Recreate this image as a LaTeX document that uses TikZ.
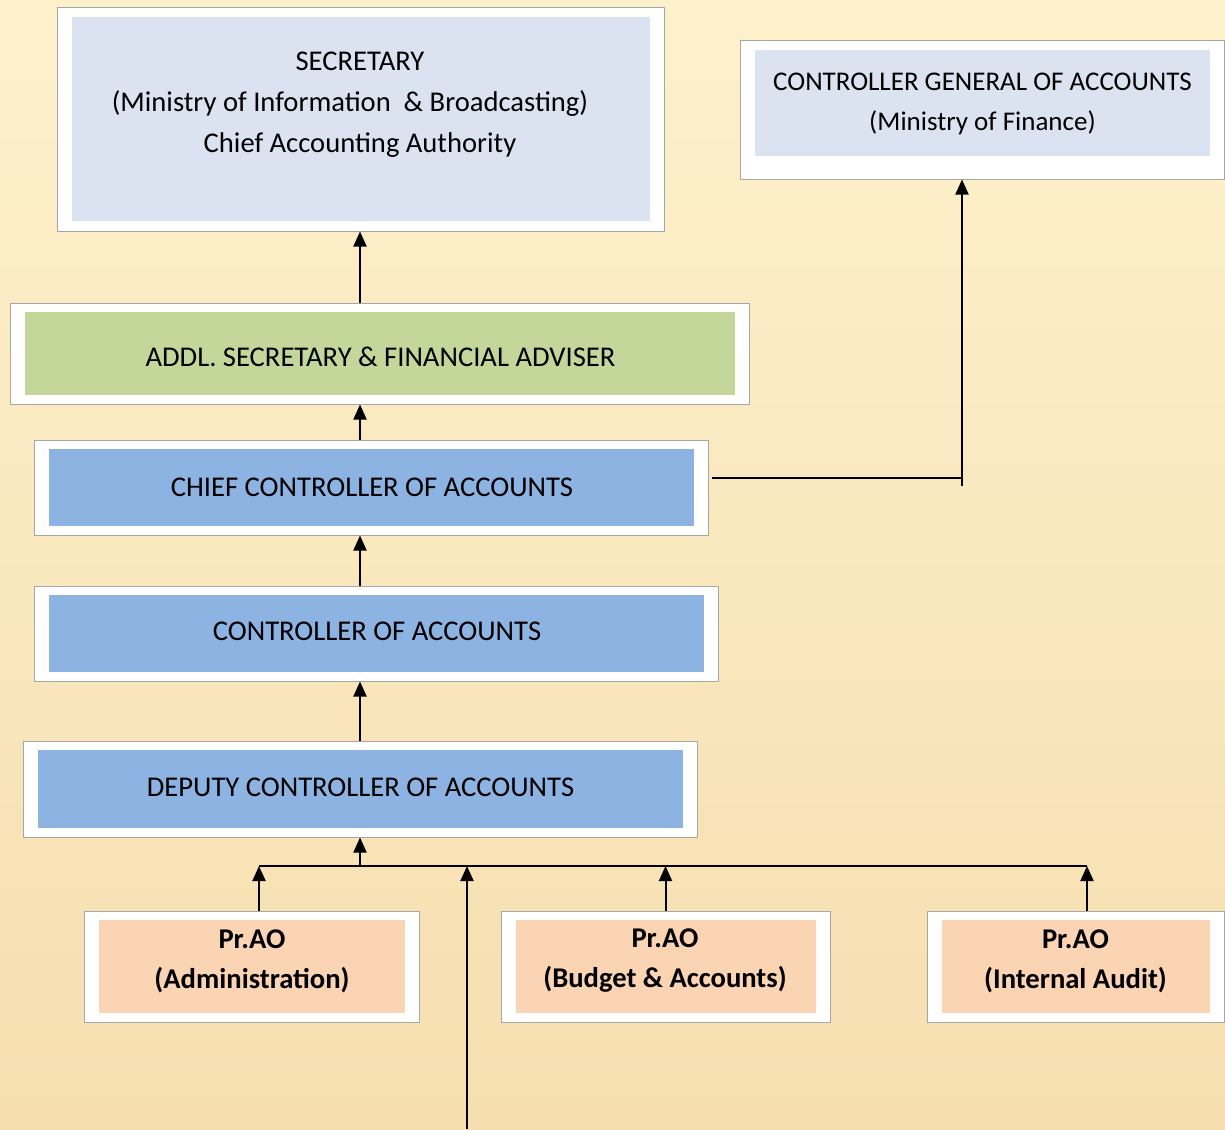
\documentclass[tikz,border=0pt]{standalone}
\usepackage{fontspec}
\setmainfont{Carlito}
\usetikzlibrary{arrows.meta}
\definecolor{bgtop}{RGB}{253,241,204}
\definecolor{bgbot}{RGB}{246,222,176}
\definecolor{framegrey}{RGB}{166,166,166}
\definecolor{secgrey}{RGB}{220,227,240}
\definecolor{addlgreen}{RGB}{196,215,155}
\definecolor{accblue}{RGB}{141,179,226}
\definecolor{aopeach}{RGB}{251,212,180}
\tikzset{
  frame/.style 2 args={draw=framegrey, fill=white, line width=0.5pt, inner sep=0pt,
    path picture={\fill[#1] ([shift={(7.25pt,#2)}]path picture bounding box.south west)
      rectangle ([shift={(-7pt,-4.5pt)}]path picture bounding box.north east);}},
  caption/.style={align=center, inner sep=0pt, font=\fontsize{14.3}{20}\selectfont},
  boldcaption/.style={caption, font=\bfseries\fontsize{14.3}{20}\selectfont},
  link/.style={line width=1pt},
}
\begin{document}
\begin{tikzpicture}[x=0.5pt, y=-0.5pt, >={Triangle[length=7.5pt, width=6.5pt]}]
	\useasboundingbox (0,0) rectangle (1225,1129);
	\fill[top color=bgtop, bottom color=bgbot] (0,0) rectangle (1225,1129);
	% boxes
	\node[frame={secgrey}{5pt}, minimum width=303.5pt, minimum height=111.5pt] (sec) at (360.5,119.5) {};
	\node[frame={secgrey}{11.5pt}, minimum width=242pt, minimum height=69pt] (cga) at (982,110) {};
	\node[frame={addlgreen}{4.5pt}, minimum width=369.5pt, minimum height=50.5pt] (addl) at (379.5,353.5) {};
	\node[frame={accblue}{4.5pt}, minimum width=337pt, minimum height=47.5pt] (cca) at (371,487.5) {};
	\node[frame={accblue}{4.5pt}, minimum width=342pt, minimum height=47.5pt] (ca) at (376,633.5) {};
	\node[frame={accblue}{4.5pt}, minimum width=337pt, minimum height=48pt] (dca) at (360,789) {};
	\node[frame={aopeach}{4.5pt}, minimum width=167.5pt, minimum height=55.5pt] (adm) at (251.5,966.5) {};
	\node[frame={aopeach}{4.5pt}, minimum width=164.5pt, minimum height=55.5pt] (bud) at (665.5,966.5) {};
	\node[frame={aopeach}{4.5pt}, minimum width=148.5pt, minimum height=55.5pt] (ia) at (1075.5,966.5) {};
	% texts
	\node[caption, font=\fontsize{14.3}{20.5}\selectfont] (sectxt) at (360,105)
		{SECRETARY\\(Ministry of Information \ \& Broadcasting)\rule{10pt}{0pt}\\Chief Accounting Authority};
	\node[caption, font=\fontsize{13.5}{20}\selectfont] (cgatxt) at (982.5,104) {CONTROLLER GENERAL OF ACCOUNTS\\(Ministry of Finance)};
	\node[caption] (addltxt) at (380.5,357) {ADDL. SECRETARY \& FINANCIAL ADVISER};
	\node[caption] (ccatxt) at (372,487) {CHIEF CONTROLLER OF ACCOUNTS};
	\node[caption] (catxt) at (377,631) {CONTROLLER OF ACCOUNTS};
	\node[caption] (dcatxt) at (360.5,787) {DEPUTY CONTROLLER OF ACCOUNTS};
	\node[boldcaption] (admtxt) at (252,961) {Pr.AO\\(Administration)};
	\node[boldcaption] (budtxt) at (665,961) {Pr.AO\\(Budget \& Accounts)};
	\node[boldcaption] (iatxt) at (1075.5,961) {Pr.AO\\(Internal Audit)};
	% connectors
	\coordinate (spine) at (360,0);
	\coordinate (turn) at (962,478);
	\coordinate (busL) at (259,866);
	\coordinate (busR) at (1087,866);
	\coordinate (feed) at (467,1129);
	\draw[link, ->] (addl.north -| spine) -- (sec.south -| spine);
	\draw[link, ->] (cca.north -| spine) -- (addl.south -| spine);
	\draw[link, ->] (ca.north -| spine) -- (cca.south -| spine);
	\draw[link, ->] (dca.north -| spine) -- (ca.south -| spine);
	\draw[link] ([xshift=1.5pt]cca.east |- turn) -- (turn);
	\draw[link, ->] ([yshift=-4pt]turn) -- (cga.south -| turn);
	\draw[link] (busL) -- (busR);
	\draw[link, ->] (busL -| spine) -- (dca.south -| spine);
	\draw[link, ->] (adm.north -| busL) -- (busL);
	\draw[link, ->] (bud.north) -- (bud.north |- busL);
	\draw[link, ->] (ia.north -| busR) -- (busR);
	\draw[link, ->] (feed) -- (feed |- busL);
\end{tikzpicture}
\end{document}
